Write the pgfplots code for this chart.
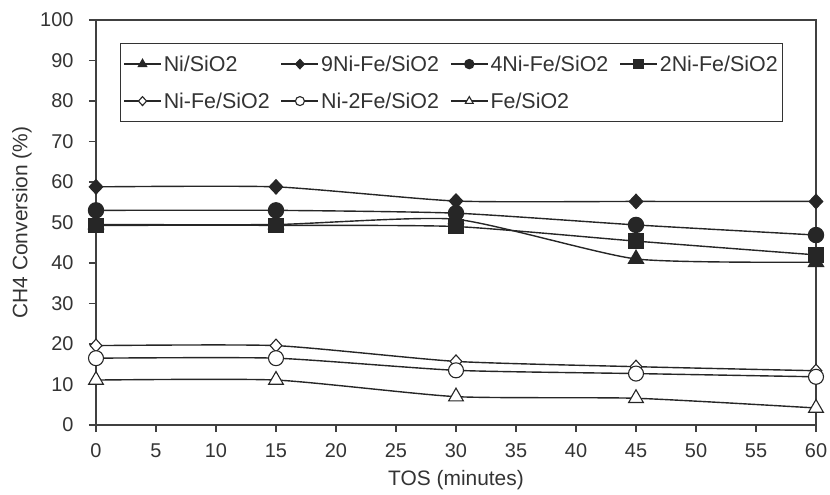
\documentclass[border=0pt]{standalone}
\usepackage{fontspec}
\setmainfont{Liberation Sans}
\usepackage{pgfplots}
\pgfplotsset{compat=1.18}
\begin{document}
\begin{tikzpicture}
\useasboundingbox (-96bp,-70bp) rectangle (734bp,425bp);
\begin{axis}[
  at={(0,0)}, anchor=south west,
  scale only axis,
  width=720bp, height=405bp,
  xmin=0, xmax=60, ymin=0, ymax=100,
  xtick={0,5,...,60}, ytick={0,10,...,100},
  tick align=outside, tick pos=left,
  major tick length=7bp,
  axis line style={black!75, line width=1.3bp},
  xtick style={draw=black!75, line width=1.3bp},
  ytick style={draw=black!75, line width=1.3bp},
  /pgf/number format/assume math mode=true,
  tick label style={font=\fontsize{20}{22}\selectfont, text=black!80},
  yticklabel style={xshift=-12bp},
  xticklabel style={yshift=-8bp},
  xlabel={TOS (minutes)},
  ylabel={CH4 Conversion (\%)},
  every axis x label/.style={at={(axis description cs:0.5,-0.136)}, anchor=center, font=\fontsize{21}{23}\selectfont, text=black!80},
  every axis y label/.style={at={(axis description cs:-0.103,0.5)}, rotate=90, anchor=center, font=\fontsize{21}{23}\selectfont, text=black!80},
  legend columns=4,
  legend cell align=left,
  legend style={at={(axis description cs:0.033,0.943)}, anchor=north west, draw=black!80, line width=1bp,
    font=\fontsize{21.5}{24}\selectfont, text=black!80,
    inner xsep=3bp, inner ysep=10bp, row sep=16bp,
    nodes={inner xsep=2bp},
    /tikz/every even column/.append style={column sep=9bp}},
  legend image code/.code={\draw[mark=none, line width=1.5bp] (0bp,0bp) -- (37bp,0bp); \draw[mark size=4.5bp] plot coordinates {(18.5bp,0bp)};},
  every axis plot/.append style={black!85, line width=1.4bp, smooth, tension=0.35},
]
\addplot[mark=triangle*, mark size=8.5bp, mark options={fill=black!85}] coordinates {(0,49.5)(15,49.5)(30,50.8)(45,41)(60,40.2)};
\addlegendentry{Ni/SiO2}
\addplot[mark=diamond*, mark size=7bp, mark options={fill=black!85, xscale=1.25}] coordinates {(0,58.8)(15,58.8)(30,55.3)(45,55.2)(60,55.2)};
\addlegendentry{9Ni-Fe/SiO2}
\addplot[mark=*, mark size=7.5bp, mark options={fill=black!85}] coordinates {(0,53)(15,53)(30,52.3)(45,49.4)(60,46.9)};
\addlegendentry{4Ni-Fe/SiO2}
\addplot[mark=square*, mark size=7bp, mark options={fill=black!85}] coordinates {(0,49.3)(15,49.3)(30,49)(45,45.4)(60,42)};
\addlegendentry{2Ni-Fe/SiO2}
\addplot[mark=diamond*, mark size=6.5bp, mark options={fill=white, line width=1.1bp, xscale=1.2}] coordinates {(0,19.6)(15,19.6)(30,15.7)(45,14.4)(60,13.4)};
\addlegendentry{Ni-Fe/SiO2}
\addplot[mark=*, mark size=7.5bp, mark options={fill=white, line width=1.1bp}] coordinates {(0,16.5)(15,16.5)(30,13.5)(45,12.7)(60,11.9)};
\addlegendentry{Ni-2Fe/SiO2}
\addplot[mark=triangle*, mark size=8.5bp, mark options={fill=white, line width=1.1bp}] coordinates {(0,11.1)(15,11.1)(30,7)(45,6.6)(60,4.2)};
\addlegendentry{Fe/SiO2}
\end{axis}
\end{tikzpicture}
\end{document}
